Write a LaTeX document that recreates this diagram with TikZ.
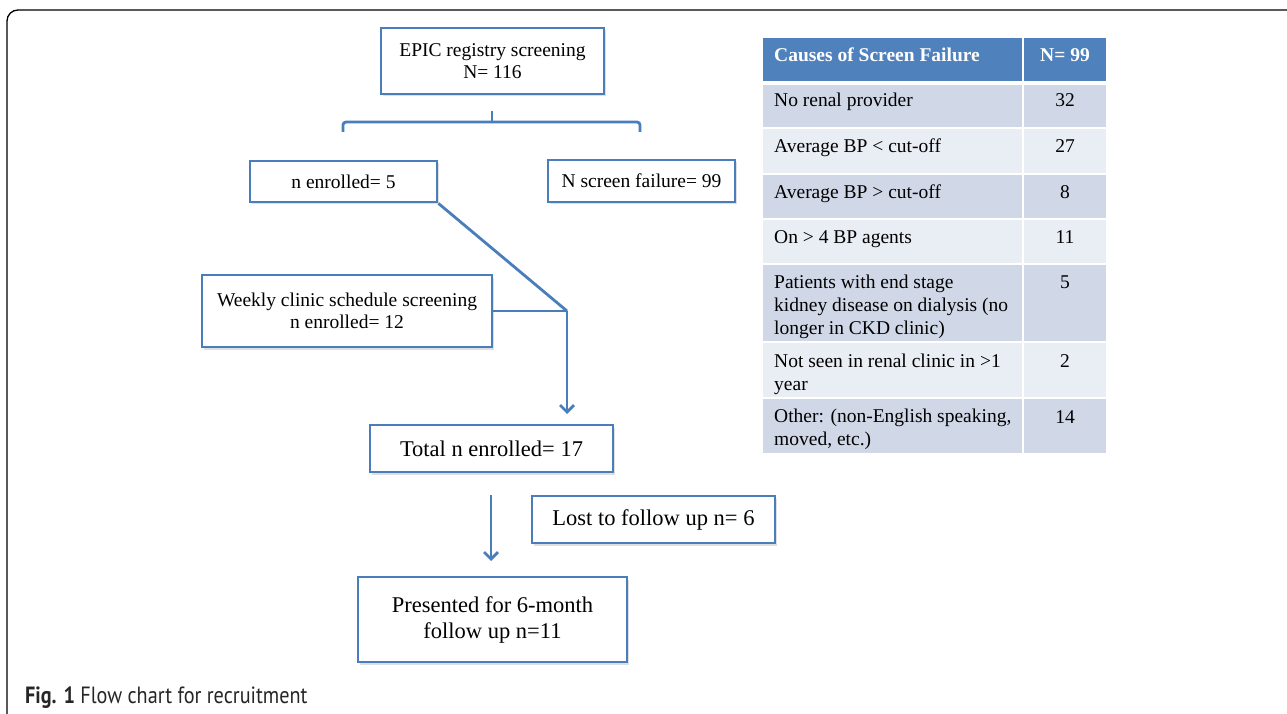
\documentclass[tikz,border=0pt]{standalone}
\usepackage{fontspec}
\setmainfont{Liberation Serif}
\newfontfamily\capfont[FakeStretch=0.86]{PT Sans}
\usetikzlibrary{arrows.meta,shadows}
\definecolor{bl}{HTML}{4A7EBB}
\definecolor{hd}{HTML}{4F81BD}
\definecolor{dk}{HTML}{D0D8E8}
\definecolor{lt}{HTML}{E9EDF4}
\tikzset{
  fbox/.style={draw=bl, line width=2.8pt, fill=white, align=center, inner sep=0pt,
    drop shadow={opacity=0.25, shadow xshift=1.5pt, shadow yshift=-2.5pt},
    font=\fontsize{19.5}{22}\selectfont},
  bigbox/.style={fbox, font=\fontsize{22.5}{26}\selectfont},
  conn/.style={draw=bl, line width=2.8pt},
  arr/.style={conn, -{Straight Barb[length=7pt,width=14pt,line width=2.8pt]}},
  cellL/.style={anchor=base west, align=left, inner sep=0pt, font=\fontsize{19.5}{23}\selectfont},
  cellR/.style={anchor=base, align=center, inner sep=0pt, font=\fontsize{19.5}{23}\selectfont},
}
\begin{document}
\begin{tikzpicture}[x=1pt,y=-1pt]
\useasboundingbox (0,0) rectangle (1287,714);
\clip (0,0) rectangle (1287,714);
\fill[white] (0,0) rectangle (1287,714);
\draw[line width=1.3pt, rounded corners=11pt] (7,10) rectangle (1310,740);

% flowchart boxes
\node[fbox, minimum width=223pt, minimum height=66pt] (epic) at (492.5,61) {EPIC registry screening\\N= 116};
\node[fbox, minimum width=187pt, minimum height=41pt] (enr) at (343.5,181.5) {n enrolled= 5};
\node[fbox, minimum width=187pt, minimum height=42pt] (fail) at (641.5,181) {N screen failure= 99};
\node[fbox, minimum width=290pt, minimum height=72pt] (weekly) at (347,311) {Weekly clinic schedule screening\\n enrolled= 12};
\node[bigbox, minimum width=243pt, minimum height=47pt] (total) at (491.5,448.5) {Total n enrolled= 17};
\node[bigbox, minimum width=243pt, minimum height=47pt] (lost) at (653.5,519.5) {Lost to follow up n= 6};
\node[bigbox, minimum width=269pt, minimum height=85pt] (pres) at (492.5,619.5) {Presented for 6-month\\follow up n=11};

% bracket
\coordinate (brT) at (492,111);
\coordinate (brM) at (492,122);
\coordinate (brL) at (343,132);
\coordinate (brR) at (640,132);
\draw[conn, rounded corners=3pt] (brL) |- (brM) -| (brR);
\draw[conn] (brT) -- (brM);

% merge
\coordinate (j) at (567,311);
\coordinate (jt) at (567,414);
\draw[conn] (enr.south east) -- (j);
\draw[conn] (weekly.east) -- (j);
\draw[arr] (j) -- (jt);

\coordinate (a1) at (491,495);
\coordinate (a2) at (491,561);
\draw[arr] (a1) -- (a2);

% table
\fill[hd] (763,38) rectangle (1022,81);
\fill[hd] (1024,38) rectangle (1106,81);
\foreach \t/\b/\c in {85/127/dk,129/173/lt,175/218/dk,220/263/lt,265/341/dk,343/397/lt,399/453/dk}{
  \fill[\c] (763,\t) rectangle (1022,\b);
  \fill[\c] (1024,\t) rectangle (1106,\b);
}
\node[cellL, text=white, font=\bfseries\fontsize{19.5}{23}\selectfont] (h1) at (774,62) {Causes of Screen Failure};
\node[cellR, text=white, font=\bfseries\fontsize{19.5}{23}\selectfont] (h2) at (1065,62) {N= 99};
\node[cellL] (r1a) at (774,107) {No renal provider};
\node[cellR] (r1b) at (1065,107) {32};
\node[cellL] (r2a) at (774,153) {Average BP < cut-off};
\node[cellR] (r2b) at (1065,153) {27};
\node[cellL] (r3a) at (774,198) {Average BP > cut-off};
\node[cellR] (r3b) at (1065,198) {8};
\node[cellL] (r4a) at (774,243) {On > 4 BP agents};
\node[cellR] (r4b) at (1065,243) {11};
\node[cellL] (r5a) at (774,334) {Patients with end stage\\kidney disease on dialysis (no\\longer in CKD clinic)};
\node[cellR] (r5b) at (1065,288) {5};
\node[cellL] (r6a) at (774,390) {Not seen in renal clinic in >1\\year};
\node[cellR] (r6b) at (1065,367) {2};
\node[cellL] (r7a) at (774,445) {Other: (non-English speaking,\\moved, etc.)};
\node[cellR] (r7b) at (1065,423) {14};

% caption
\node[anchor=base west, inner sep=0pt, font=\capfont\fontsize{23.5}{27}\selectfont, text=black!85] (cap) at (25,703) {\textbf{Fig. 1} Flow chart for recruitment};
\end{tikzpicture}
\end{document}
